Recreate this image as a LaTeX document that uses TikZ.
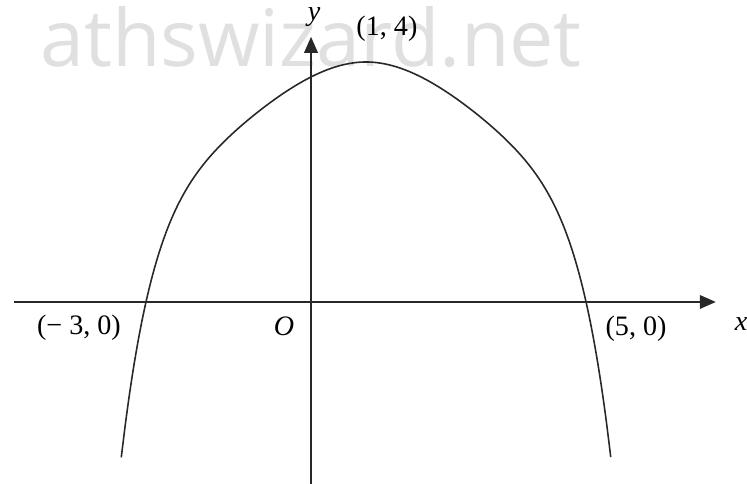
\documentclass[tikz,border=0pt]{standalone}
\usepackage{fontspec}
\setmainfont{Liberation Serif}
\newfontfamily\wmfont{Open Sans}
\usetikzlibrary{arrows.meta}
\definecolor{wmgray}{RGB}{224,224,224}
\definecolor{inkgray}{RGB}{40,40,40}
\tikzset{
  axis/.style={line width=1.1pt,draw=inkgray,-{Triangle[length=3.2mm,width=2.7mm]}},
  graph/.style={line width=0.9pt,draw=inkgray},
  lbl/.style={inner sep=0pt,font=\fontsize{16}{19}\selectfont},
  wmark/.style={inner sep=0pt,text=wmgray,font=\wmfont\fontsize{45}{50}\selectfont}
}
\begin{document}
\begin{tikzpicture}[x=1.1cm,y=1.2cm]
  \useasboundingbox (-5.655,-3.033) rectangle (7.927,5.033);
  % watermark
  \node[wmark,anchor=base east] (wm) at (4.93,3.93) {athswizard.net};
  % axes
  \coordinate (xl) at (-5.4,0);
  \coordinate (xr) at (7.36,0);
  \coordinate (yb) at (0,-3.033);
  \coordinate (yt) at (0,4.42);
  \draw[axis] (xl) -- (xr);
  \draw[axis] (yb) -- (yt);
  % curve
  \draw[graph] plot[domain=-3.45:5.45,samples=120,smooth]
    (\x,{4-0.287*(\x-1)*(\x-1)+0.0371*abs(\x-1)^3-1.78*(abs(\x-1)/4)^8});
  % labels
  \node[lbl] (ylab) at (0.055,4.75) {\textit{y}};
  \node[lbl] (top) at (1.38,4.55) {(1, 4)};
  \node[lbl] (left) at (-4.22,-0.43) {(− 3, 0)};
  \node[lbl] (orig) at (-0.49,-0.40) {\textit{O}};
  \node[lbl] (right) at (5.91,-0.45) {(5, 0)};
  \node[lbl] (xlab) at (7.82,-0.37) {\textit{x}};
\end{tikzpicture}
\end{document}
